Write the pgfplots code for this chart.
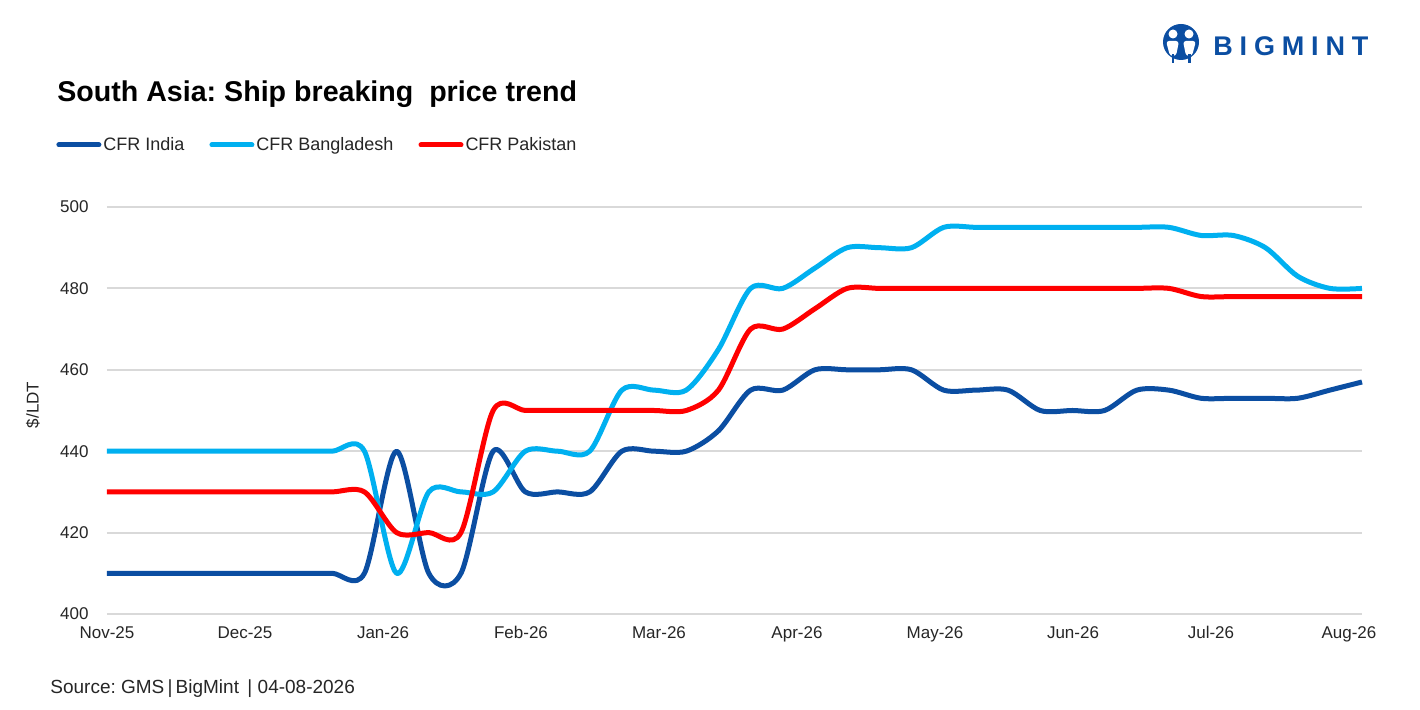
\documentclass[border=0pt]{standalone}
\usepackage{fontspec}
\setmainfont{Liberation Sans}
\usepackage{pgfplots}
\usepackage{pgfplotstable}
\pgfplotsset{compat=1.18}
\definecolor{cIndia}{HTML}{0B4EA2}
\definecolor{cBang}{HTML}{00B0F0}
\definecolor{cPak}{HTML}{FF0000}
\definecolor{cGrid}{HTML}{D9D9D9}
\definecolor{cText}{HTML}{262626}
\definecolor{cLogo}{HTML}{0B4EA2}

\pgfplotstableread{
i india bang pak
0 410 440 430
1 410 440 430
2 410 440 430
3 410 440 430
4 410 440 430
5 410 440 430
6 410 440 430
7 410 440 430
8 410 440 430
9 440 410 420
10 410 430 420
11 410 430 420
12 440 430 450
13 430 440 450
14 430 440 450
15 430 440 450
16 440 455 450
17 440 455 450
18 440 455 450
19 445 465 455
20 455 480 470
21 455 480 470
22 460 485 475
23 460 490 480
24 460 490 480
25 460 490 480
26 455 495 480
27 455 495 480
28 455 495 480
29 450 495 480
30 450 495 480
31 450 495 480
32 455 495 480
33 455 495 480
34 453 493 478
35 453 493 478
36 453 490 478
37 453 483 478
38 455 480 478
39 457 480 478
}\datatable

\begin{document}
\frenchspacing
\begin{tikzpicture}[x=0.5pt,y=0.5pt]
\path[fill=white] (0,0) rectangle (1420,710);
% title
\node[anchor=base west, inner sep=0pt, font=\fontsize{14.3pt}{16pt}\selectfont\bfseries] at (57,608.3) {South Asia: Ship breaking~ price trend};
% source
\node[anchor=base west, inner sep=0pt, font=\fontsize{9.5pt}{11pt}\selectfont, text=cText] at (50,16) {Source: GMS\,|\,BigMint \,| 04-08-2026};
% y label
\node[rotate=90, inner sep=0pt, font=\fontsize{8.5pt}{10pt}\selectfont, text=cText] at (33,305) {\$/LDT};
% logo
\fill[cLogo] (1181,668) circle (18);
\fill[white] (1173,676) circle (4.5);
\fill[white] (1189,676) circle (4.5);
\fill[white, rounded corners=1.5] (1166,669) -- (1179,669) -- (1176,654) -- (1170,654) -- cycle;
\fill[white, rounded corners=1.5] (1183,669) -- (1196,669) -- (1192,654) -- (1186,654) -- cycle;
\fill[cLogo] (1171.5,656) rectangle (1174,647);
\fill[cLogo] (1188,656) rectangle (1190.5,647);
\node[anchor=base west, inner sep=0pt, font=\fontsize{13.5pt}{15pt}\selectfont\bfseries, text=cLogo] at (1213,654) {\makebox[77.5pt][s]{B\hfill I\hfill G\hfill M\hfill I\hfill N\hfill T}};

\begin{axis}[
  at={(53.5pt,48pt)}, anchor=south west,
  scale only axis, width=627.5pt, height=203.5pt,
  xmin=0, xmax=39, ymin=400, ymax=500,
  ytick={400,420,...,500},
  xtick={0,4.288,8.577,12.865,17.154,21.442,25.731,30.019,34.307,38.596},
  xticklabels={Nov-25,Dec-25,Jan-26,Feb-26,Mar-26,Apr-26,May-26,Jun-26,Jul-26,Aug-26},
  axis line style={draw=none},
  major tick length=0pt,
  ymajorgrids, grid style={cGrid, line width=1pt},
  tick label style={font=\fontsize{8.5pt}{10pt}\selectfont, text=cText},
  yticklabel style={anchor=east, inner sep=0pt, xshift=-9pt},
  xticklabel style={anchor=north, inner sep=0pt, yshift=-6pt},
  /pgf/number format/assume math mode=true,
  clip=false,
  every axis plot/.append style={line width=2.5pt, line join=round, mark=none},
  legend columns=3,
  legend style={at={(-0.04064,1.15233)}, anchor=west, draw=none, fill=none,
    inner sep=0pt, font=\fontsize{9pt}{11pt}\selectfont, text=cText,
    /tikz/every even column/.append style={column sep=11.5pt},
    nodes={inner sep=1pt}},
  legend image code/.code={\draw[#1, line cap=round] (0pt,0pt) -- (20pt,0pt);},
]
\addplot[cIndia, smooth] table[x=i, y=india] {\datatable};
\addlegendentry{CFR India}
\addplot[cBang, smooth] table[x=i, y=bang] {\datatable};
\addlegendentry{CFR Bangladesh}
\addplot[cPak, smooth] table[x=i, y=pak] {\datatable};
\addlegendentry{CFR Pakistan}
\end{axis}
\end{tikzpicture}
\end{document}
